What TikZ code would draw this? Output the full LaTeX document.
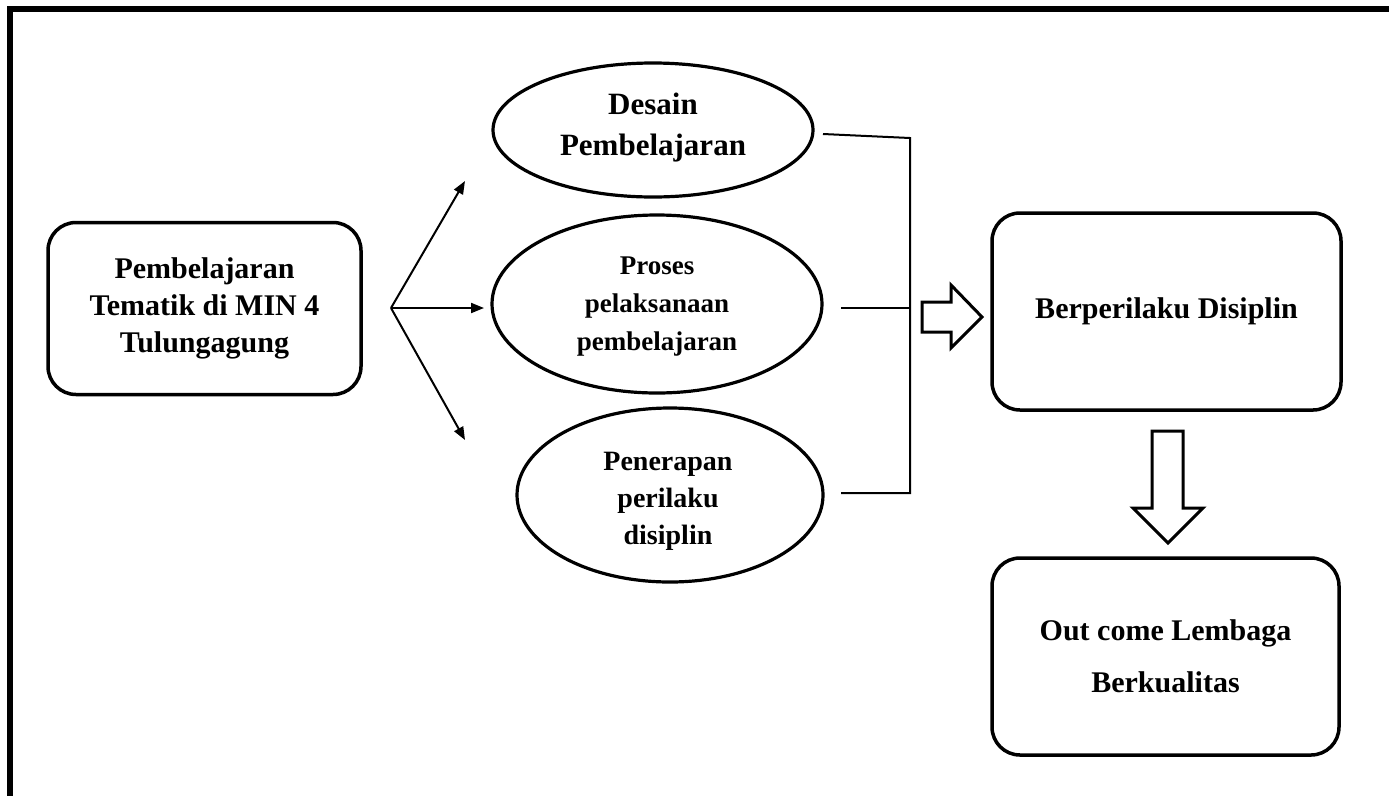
\documentclass[tikz,border=0pt]{standalone}
\usepackage{fontspec}
\setmainfont{Liberation Serif}
\usetikzlibrary{shapes.geometric,arrows.meta}
\begin{document}
\begin{tikzpicture}[x=1pt,y=-1pt,
  rbox/.style={draw,line width=3.5pt,rounded corners=28pt,align=center,inner sep=0pt,
    font=\bfseries\fontsize{30}{37}\selectfont},
  oval/.style={draw,ellipse,line width=3.2pt,inner sep=0pt},
  ovaltext/.style={align=center,inner sep=0pt},
  conn/.style={line width=2pt},
  arr/.style={line width=2pt,-{Triangle[length=13pt,width=10pt]}},
  blockarrow/.style={draw,line width=3pt,miter limit=10}
]
\useasboundingbox (0,0) rectangle (1389,796);
\draw[line width=6pt] (1389,9) -- (10,9) -- (10,796);

\node[rbox,minimum width=313pt,minimum height=172pt] (src) at (204.5,308.5)
  {Pembelajaran\\Tematik di MIN 4\\Tulungagung};

\node[oval,minimum width=320pt,minimum height=134pt] (e1) at (653,130) {};
\node[ovaltext,font=\bfseries\fontsize{31}{41}\selectfont] (e1t) at (653,128)
  {Desain\\Pembelajaran};
\node[oval,minimum width=330pt,minimum height=178pt] (e2) at (657,304) {};
\node[ovaltext,font=\bfseries\fontsize{27}{38}\selectfont] (e2t) at (657,307)
  {Proses\\pelaksanaan\\pembelajaran};
\node[oval,minimum width=306pt,minimum height=174pt] (e3) at (670,495) {};
\node[ovaltext,font=\bfseries\fontsize{28}{37}\selectfont] (e3t) at (668,501)
  {Penerapan\\perilaku\\disiplin};

\node[rbox,minimum width=349pt,minimum height=197pt] (dis) at (1166.5,311.5)
  {Berperilaku Disiplin};
\node[rbox,minimum width=347pt,minimum height=197pt,font=\bfseries\fontsize{30}{52}\selectfont] (out) at (1165.5,656.5)
  {Out come Lembaga\\Berkualitas};

\coordinate (fork) at (391,308);
\coordinate (a1) at (465,181);
\coordinate (a2) at (484,308);
\coordinate (a3) at (465,440);
\draw[arr] (fork) -- (a1);
\draw[arr] (fork) -- (a2);
\draw[arr] (fork) -- (a3);

\coordinate (b1) at (823,134);
\coordinate (b2) at (841,308);
\coordinate (b3) at (841,493);
\coordinate (j1) at (910,138);
\coordinate (j2) at (910,308);
\coordinate (j3) at (910,493);
\draw[conn] (b1) -- (j1) -- (j3) -- (b3);
\draw[conn] (b2) -- (j2);

\draw[blockarrow] (922,302) -- (951,302) -- (951,285) -- (982,317) -- (951,348) -- (951,332) -- (922,332) -- cycle;
\draw[blockarrow] (1152,431) -- (1183,431) -- (1183,508) -- (1203,508) -- (1168,543) -- (1133,508) -- (1152,508) -- cycle;
\end{tikzpicture}
\end{document}
